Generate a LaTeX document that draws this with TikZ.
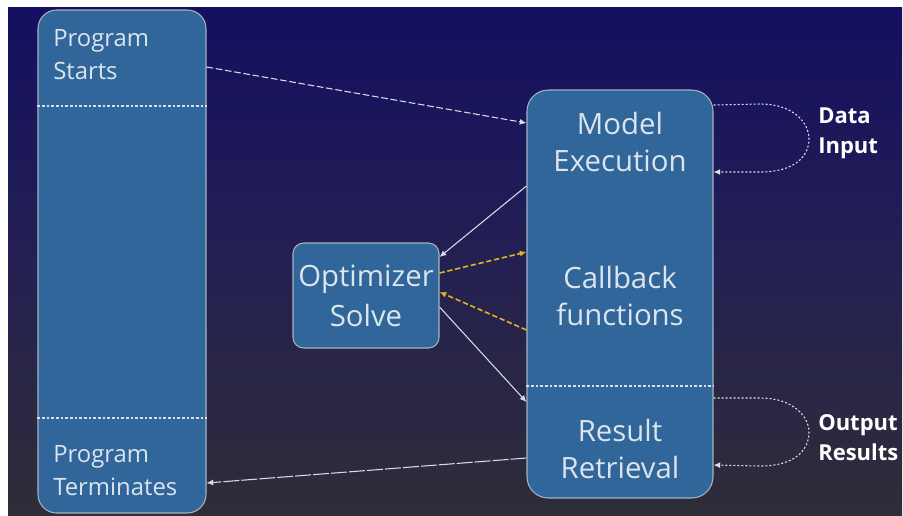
\documentclass[tikz,border=0pt]{standalone}
\usepackage{fontspec}
\setmainfont{Open Sans}
\usetikzlibrary{arrows.meta,calc}
\definecolor{bgtop}{RGB}{20,15,96}
\definecolor{bgmid}{RGB}{36,32,82}
\definecolor{bgbot}{RGB}{46,45,56}
\definecolor{boxfill}{RGB}{48,102,153}
\definecolor{boxedge}{RGB}{165,178,194}
\definecolor{txt}{RGB}{220,228,238}
\definecolor{linkc}{RGB}{215,220,230}
\definecolor{cbcol}{RGB}{228,178,32}
\tikzset{
  panel/.style={draw=boxedge, line width=0.8pt, fill=boxfill, inner sep=0pt},
  bigtxt/.style={text=txt, align=center, inner sep=0pt,
    font=\fontsize{22}{27.75}\selectfont},
  smalltxt/.style={text=txt, align=left, inner sep=0pt, anchor=west,
    font=\fontsize{17.9}{24.75}\selectfont},
  sidetxt/.style={text=white, align=left, inner sep=0pt, anchor=west,
    font=\fontsize{16.5}{22.5}\selectfont\bfseries},
  divider/.style={draw=linkc!90, line width=0.8pt, dash pattern=on 2pt off 1.5pt},
  tip/.style={-{Latex[length=5pt,width=4.5pt]}},
  flow/.style={tip, draw=linkc, line width=0.8pt},
  callflow/.style={tip, draw=cbcol, line width=1.2pt, dash pattern=on 4pt off 2pt},
  loopflow/.style={tip, draw=linkc!85, line width=0.8pt, dash pattern=on 1.5pt off 1.5pt},
}
\begin{document}
\begin{tikzpicture}[x=0.75pt,y=-0.75pt]
  \useasboundingbox (0,0) rectangle (903,515);
  % backdrop
  \shade[top color=bgtop, bottom color=bgbot, middle color=bgmid] (8,7) rectangle (902,515);

  % program lifetime column
  \node[panel, rounded corners=14pt, minimum width=126pt, minimum height=377.25pt]
    (prog) at (122,261.5) {};
  \draw[divider] (prog.west |- 0,106) -- (prog.east |- 0,106);
  \draw[divider] (prog.west |- 0,418) -- (prog.east |- 0,418);
  \node[smalltxt] (start) at (53,55) {Program\\Starts};
  \node[smalltxt] (term) at (53,471) {Program\\Terminates};

  % model column
  \node[panel, rounded corners=16pt, minimum width=139.5pt, minimum height=306pt]
    (main) at (620,294) {};
  \draw[divider] (main.west |- 0,386) -- (main.east |- 0,386);
  \node[bigtxt] (exec) at (620,142) {Model\\Execution};
  \node[bigtxt] (cb) at (620,296) {Callback\\functions};
  \node[bigtxt] (res) at (620,449) {Result\\Retrieval};

  % solver
  \node[panel, rounded corners=8pt, minimum width=109.5pt, minimum height=78.75pt]
    (opt) at (366,295.5) {};
  \node[bigtxt, font=\fontsize{22}{30}\selectfont] (opttxt) at (366,296) {Optimizer\\Solve};

  % side labels
  \node[sidetxt] (din) at (818,133) {Data\\Input};
  \node[sidetxt] (dout) at (818,438) {Output\\Results};

  % anchor points on the panel borders
  \coordinate (ps) at (prog.east |- 0,67);
  \coordinate (pt) at (prog.east |- 0,483);
  \coordinate (mIn) at (main.west |- 0,123);
  \coordinate (mOut) at (main.west |- 0,186);
  \coordinate (cbIn) at (main.west |- 0,252);
  \coordinate (cbOut) at (main.west |- 0,330);
  \coordinate (rIn) at (main.west |- 0,402);
  \coordinate (rOut) at (main.west |- 0,458);
  \coordinate (oIn) at (opt.east |- 0,257);
  \coordinate (oA) at (opt.east |- 0,273);
  \coordinate (oB) at (opt.east |- 0,292);
  \coordinate (oOut) at (opt.east |- 0,307);
  \coordinate (dA) at (main.east |- 0,105);
  \coordinate (dB) at (main.east |- 0,172);
  \coordinate (rA) at (main.east |- 0,398);
  \coordinate (rB) at (main.east |- 0,465);

  % flow
  \draw[flow, dash pattern=on 5pt off 2pt] (ps) -- (mIn);
  \draw[flow] (mOut) -- (oIn);
  \draw[callflow] (oA) -- (cbIn);
  \draw[callflow] (cbOut) -- (oB);
  \draw[flow] (oOut) -- (rIn);
  \draw[flow, dash pattern=on 12pt off 1.5pt] (rOut) -- (pt);

  % data loops
  \draw[loopflow] (dA) -- (760,104) .. controls (795,104) and (809,124) .. (809,139)
    .. controls (809,156) and (795,172) .. (760,172) -- (dB);
  \draw[loopflow] (rA) -- (760,398) .. controls (795,398) and (809,418) .. (809,432)
    .. controls (809,450) and (795,466) .. (760,466) -- (rB);
\end{tikzpicture}
\end{document}
